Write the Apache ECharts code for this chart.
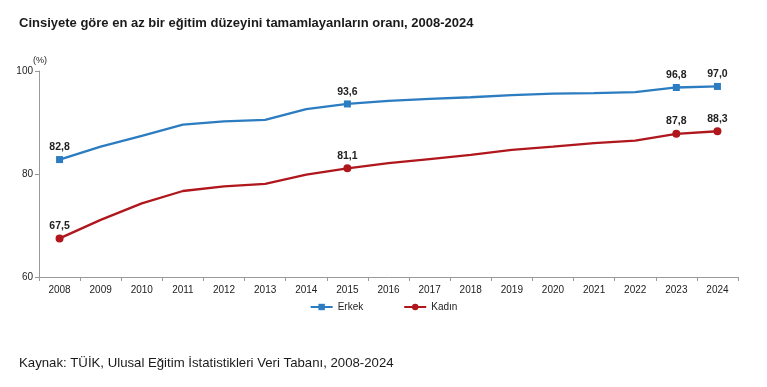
<!DOCTYPE html>
<html><head><meta charset="utf-8">
<script src="https://cdn.jsdelivr.net/npm/echarts@6/dist/echarts.min.js"></script>
<style>html,body{margin:0;padding:0;background:#fff}#c{width:767px;height:387px}</style>
</head><body><div id="c"></div>
<script>
var years = ['2008','2009','2010','2011','2012','2013','2014','2015','2016','2017','2018','2019','2020','2021','2022','2023','2024'];
var erkek = [82.8,85.3,87.4,89.6,90.2,90.5,92.6,93.6,94.2,94.6,94.9,95.3,95.6,95.7,95.9,96.8,97.0];
var kadin = [67.5,71.1,74.3,76.7,77.6,78.1,79.9,81.1,82.1,82.9,83.7,84.7,85.3,86.0,86.5,87.8,88.3];
var labeled = ['2008','2015','2023','2024'];
var yTicks = [60,80,100];

function pts(vals){
  return vals.map(function(v,i){
    var show = labeled.indexOf(years[i])>=0;
    return {value:v, symbolSize: show?undefined:0, label:{show:show}};
  });
}
var chart = echarts.init(document.getElementById('c'));
var fmt = function(p){return p.value.toFixed(1).replace('.',',');};
chart.setOption({
  animation:false,
  textStyle:{fontFamily:'Liberation Sans, Arial'},
  title:[
    {text:'Cinsiyete göre en az bir eğitim düzeyini tamamlayanların oranı, 2008-2024',left:14,top:12,
     textStyle:{fontSize:13,fontWeight:'bold',color:'#1a1a1a',fontFamily:'Liberation Sans, Arial'}},
    {text:'Kaynak: TÜİK, Ulusal Eğitim İstatistikleri Veri Tabanı, 2008-2024',left:14,top:352,
     textStyle:{fontSize:13.2,fontWeight:'normal',color:'#1a1a1a',fontFamily:'Liberation Sans, Arial'}}
  ],
  grid:{left:39,right:29,top:71,bottom:110,containLabel:false},
  legend:{top:297,left:'center',itemGap:40,itemWidth:22,itemHeight:8,
    textStyle:{fontSize:10,color:'#222'},data:['Erkek','Kadın']},
  xAxis:{type:'category',data:years,boundaryGap:true,
    axisLine:{lineStyle:{color:'#999'}},
    axisTick:{show:true,alignWithLabel:false,length:4,lineStyle:{color:'#999'}},
    axisLabel:{fontSize:10,color:'#222',margin:8}},
  yAxis:{type:'value',min:yTicks[0],max:yTicks[yTicks.length-1],interval:20,
    name:'(%)',nameLocation:'end',nameGap:6,nameTextStyle:{fontSize:9,color:'#222',align:'left',padding:[0,0,0,-6]},
    axisLine:{show:true,lineStyle:{color:'#999'}},
    axisTick:{show:true,length:4,lineStyle:{color:'#999'}},
    splitLine:{show:false},
    axisLabel:{fontSize:10,color:'#222',margin:6}},
  series:[
    {name:'Erkek',type:'line',data:pts(erkek),symbol:'rect',symbolSize:7,
     lineStyle:{width:2.3,color:'#2b7cc1'},itemStyle:{color:'#2b7cc1'},
     label:{position:'top',distance:3,fontSize:10.5,fontWeight:'bold',color:'#222',formatter:fmt}},
    {name:'Kadın',type:'line',data:pts(kadin),symbol:'circle',symbolSize:8,
     lineStyle:{width:2.3,color:'#b0171d'},itemStyle:{color:'#b0171d'},
     label:{position:'top',distance:3,fontSize:10.5,fontWeight:'bold',color:'#222',formatter:fmt}}
  ]
});
</script></body></html>
